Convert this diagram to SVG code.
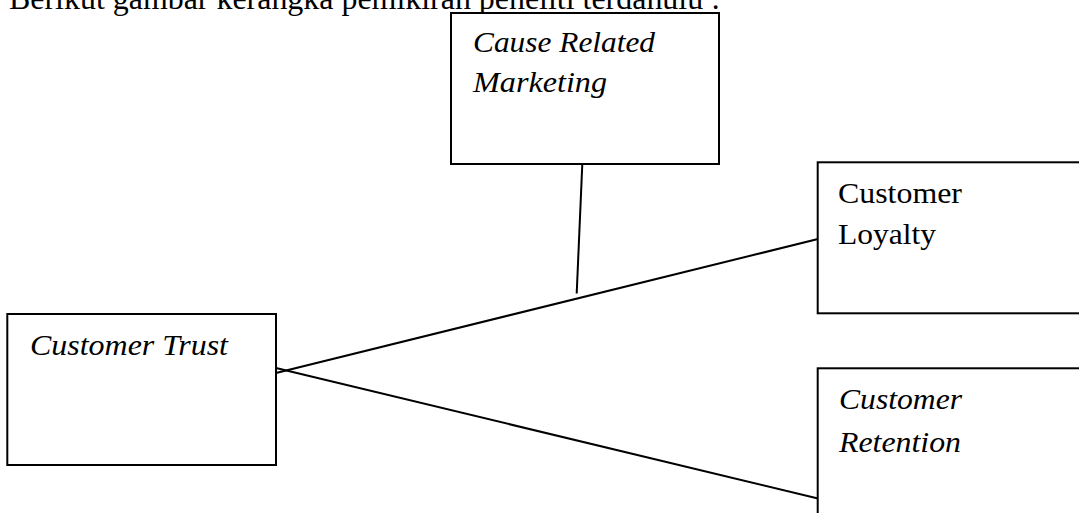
<svg xmlns="http://www.w3.org/2000/svg" width="1079" height="513" viewBox="0 0 1079 513">
<style>
.box{fill:#fff;stroke:#000;stroke-width:2}
.con{stroke:#000;stroke-width:2;fill:none}
.t{font-family:"Liberation Serif","Times New Roman",serif;font-size:30px;fill:#000}
.i{font-style:italic}
</style>
<rect width="1079" height="513" fill="#fff"/>
<text class="t" x="9" y="9" font-size="32" style="font-size:32px" textLength="711" lengthAdjust="spacingAndGlyphs">Berikut gambar kerangka pemikiran peneliti terdahulu :</text>
<g id="connectors">
<line class="con" x1="582.3" y1="164" x2="576.7" y2="293.5"/>
<line class="con" x1="276" y1="373" x2="818" y2="239"/>
<line class="con" x1="276" y1="368" x2="818" y2="498.5"/>
</g>
<g id="node-crm">
<rect class="box" x="451" y="13" width="268" height="151"/>
<text class="t i" x="473" y="52" textLength="182" lengthAdjust="spacingAndGlyphs">Cause Related</text>
<text class="t i" x="473" y="92" textLength="134" lengthAdjust="spacingAndGlyphs">Marketing</text>
</g>
<g id="node-trust">
<rect class="box" x="7.3" y="314" width="268.7" height="151"/>
<text class="t i" x="30" y="355" textLength="198" lengthAdjust="spacingAndGlyphs">Customer Trust</text>
</g>
<g id="node-loyalty">
<rect class="box" x="817.7" y="162.3" width="280" height="151"/>
<text class="t" x="838" y="203" textLength="124" lengthAdjust="spacingAndGlyphs">Customer</text>
<text class="t" x="838" y="244" textLength="98" lengthAdjust="spacingAndGlyphs">Loyalty</text>
</g>
<g id="node-retention">
<rect class="box" x="817.7" y="368.3" width="280" height="170"/>
<text class="t i" x="839" y="409" textLength="123" lengthAdjust="spacingAndGlyphs">Customer</text>
<text class="t i" x="839" y="452" textLength="122" lengthAdjust="spacingAndGlyphs">Retention</text>
</g>
</svg>
